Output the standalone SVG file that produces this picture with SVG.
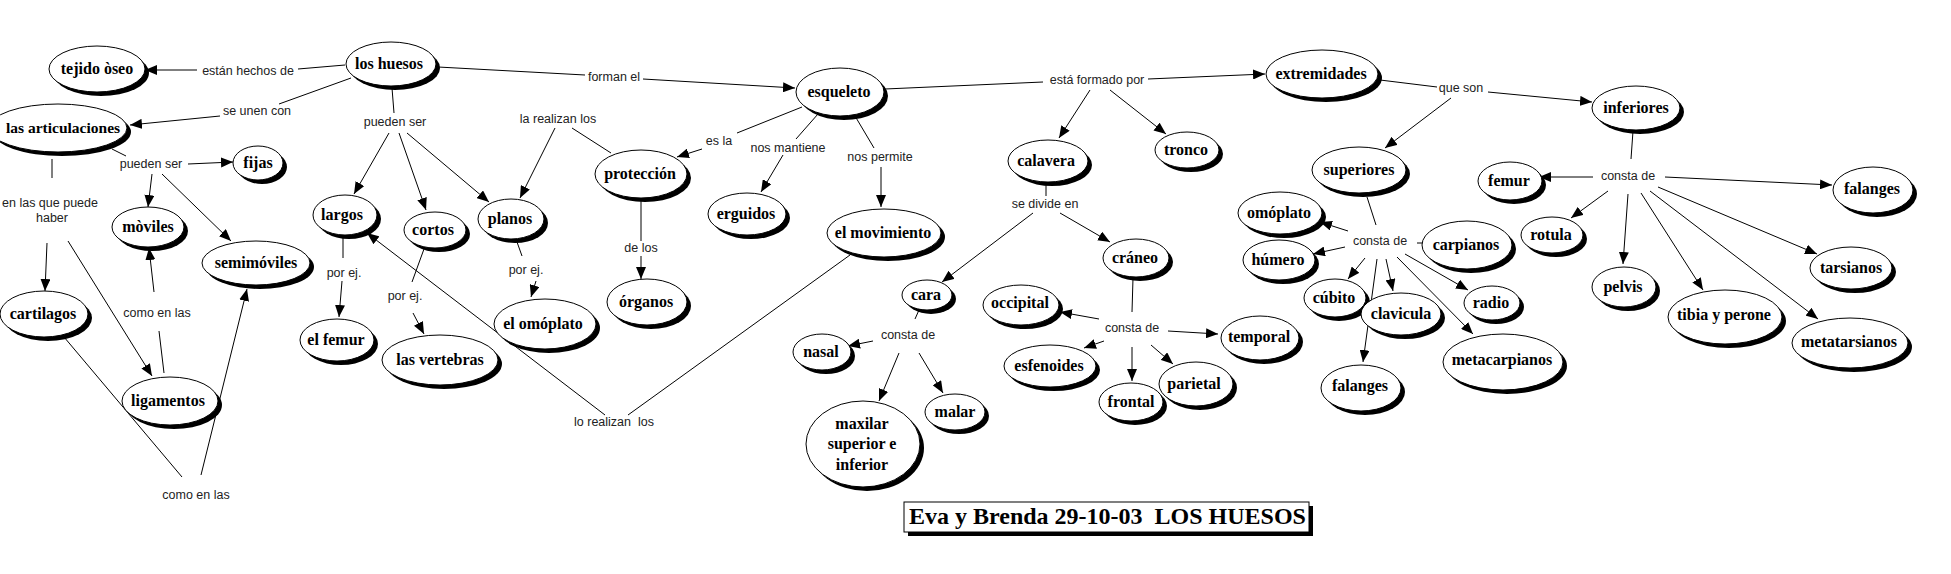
<svg xmlns="http://www.w3.org/2000/svg" width="1951" height="574" viewBox="0 0 1951 574">
<defs>
<marker id="ah" viewBox="0 0 12 10" refX="12" refY="5" markerWidth="12" markerHeight="10" markerUnits="userSpaceOnUse" orient="auto"><path d="M0,0 L12,5 L0,10 z" fill="#000"/></marker>
</defs>
<style>
.sh{fill:#000}
.nd{fill:#fff;stroke:#000;stroke-width:1}
.nt{font-family:"Liberation Serif",serif;font-weight:bold;font-size:16px;text-anchor:middle;fill:#000}
.lb{font-family:"Liberation Sans",Arial,sans-serif;font-size:12.5px;text-anchor:middle;fill:#222}
.c line{stroke:#000;stroke-width:1;fill:none}
.c line.a{marker-end:url(#ah)}
</style>
<rect width="1951" height="574" fill="#fff"/>
<g id="connectors" class="c">
<line x1="345" y1="65" x2="298" y2="69"/>
<line class="a" x1="197" y1="70" x2="145" y2="70"/>
<line x1="351" y1="78" x2="279" y2="104"/>
<line class="a" x1="220" y1="116" x2="130" y2="125"/>
<line x1="112" y1="149" x2="126" y2="156"/>
<line class="a" x1="188" y1="164" x2="233" y2="162"/>
<line class="a" x1="152" y1="174" x2="148" y2="207"/>
<line class="a" x1="162" y1="174" x2="231" y2="241"/>
<line x1="52" y1="159" x2="52" y2="178"/>
<line class="a" x1="47" y1="243" x2="45" y2="291"/>
<line class="a" x1="68" y1="241" x2="152" y2="376"/>
<line x1="164" y1="373" x2="159" y2="331"/>
<line class="a" x1="154" y1="292" x2="149" y2="248"/>
<line x1="64" y1="337" x2="182" y2="477"/>
<line class="a" x1="201" y1="475" x2="247" y2="289"/>
<line x1="392" y1="88" x2="394" y2="113"/>
<line class="a" x1="389" y1="133" x2="354" y2="194"/>
<line class="a" x1="399" y1="133" x2="426" y2="210"/>
<line class="a" x1="407" y1="133" x2="489" y2="202"/>
<line class="a" x1="555" y1="128" x2="520" y2="198"/>
<line x1="611" y1="153" x2="572" y2="128"/>
<line x1="641" y1="200" x2="641" y2="241"/>
<line class="a" x1="641" y1="256" x2="641" y2="279"/>
<line x1="343" y1="237" x2="343" y2="258"/>
<line class="a" x1="342" y1="281" x2="339" y2="317"/>
<line x1="424" y1="249" x2="412" y2="282"/>
<line class="a" x1="413" y1="313" x2="424" y2="334"/>
<line x1="517" y1="242" x2="522" y2="256"/>
<line class="a" x1="536" y1="281" x2="531" y2="297"/>
<line class="a" x1="605" y1="415" x2="367" y2="233"/>
<line x1="628" y1="415" x2="850" y2="255"/>
<line x1="438" y1="67" x2="585" y2="75"/>
<line class="a" x1="643" y1="79" x2="795" y2="88"/>
<line x1="802" y1="107" x2="737" y2="133"/>
<line class="a" x1="702" y1="149" x2="677" y2="157"/>
<line x1="818" y1="114" x2="796" y2="139"/>
<line class="a" x1="783" y1="155" x2="761" y2="192"/>
<line x1="855" y1="116" x2="874" y2="148"/>
<line class="a" x1="881" y1="167" x2="881" y2="207"/>
<line x1="885" y1="89" x2="1043" y2="82"/>
<line class="a" x1="1148" y1="79" x2="1265" y2="74"/>
<line class="a" x1="1090" y1="90" x2="1059" y2="138"/>
<line class="a" x1="1110" y1="90" x2="1166" y2="134"/>
<line x1="1046" y1="183" x2="1046" y2="196"/>
<line class="a" x1="1033" y1="213" x2="942" y2="282"/>
<line class="a" x1="1060" y1="213" x2="1110" y2="242"/>
<line x1="919" y1="310" x2="915" y2="319"/>
<line class="a" x1="873" y1="341" x2="848" y2="346"/>
<line class="a" x1="899" y1="353" x2="879" y2="401"/>
<line class="a" x1="919" y1="353" x2="943" y2="393"/>
<line x1="1133" y1="278" x2="1132" y2="312"/>
<line class="a" x1="1099" y1="319" x2="1060" y2="312"/>
<line class="a" x1="1104" y1="341" x2="1084" y2="348"/>
<line class="a" x1="1132" y1="347" x2="1132" y2="381"/>
<line class="a" x1="1151" y1="345" x2="1173" y2="364"/>
<line class="a" x1="1168" y1="331" x2="1218" y2="334"/>
<line x1="1380" y1="80" x2="1437" y2="87"/>
<line class="a" x1="1488" y1="92" x2="1592" y2="102"/>
<line class="a" x1="1451" y1="98" x2="1385" y2="148"/>
<line x1="1367" y1="197" x2="1376" y2="225"/>
<line class="a" x1="1348" y1="231" x2="1320" y2="222"/>
<line class="a" x1="1345" y1="247" x2="1313" y2="254"/>
<line x1="1417" y1="243" x2="1423" y2="243"/>
<line class="a" x1="1365" y1="258" x2="1348" y2="279"/>
<line class="a" x1="1377" y1="259" x2="1363" y2="362"/>
<line class="a" x1="1386" y1="259" x2="1393" y2="291"/>
<line class="a" x1="1397" y1="257" x2="1473" y2="334"/>
<line class="a" x1="1405" y1="254" x2="1468" y2="290"/>
<line x1="1633" y1="131" x2="1631" y2="159"/>
<line class="a" x1="1593" y1="177" x2="1539" y2="177"/>
<line class="a" x1="1608" y1="191" x2="1571" y2="218"/>
<line class="a" x1="1628" y1="194" x2="1623" y2="264"/>
<line class="a" x1="1641" y1="193" x2="1703" y2="290"/>
<line class="a" x1="1650" y1="191" x2="1818" y2="319"/>
<line class="a" x1="1658" y1="187" x2="1817" y2="254"/>
<line class="a" x1="1665" y1="177" x2="1832" y2="185"/>
</g>
<g id="labels">
<text class="lb" x="248" y="75">están hechos de</text>
<text class="lb" x="257" y="115">se unen con</text>
<text class="lb" x="151" y="168">pueden ser</text>
<text class="lb" x="50" y="207">en las que puede</text>
<text class="lb" x="52" y="222">haber</text>
<text class="lb" x="157" y="317">como en las</text>
<text class="lb" x="196" y="499">como en las</text>
<text class="lb" x="395" y="126">pueden ser</text>
<text class="lb" x="614" y="81">forman el</text>
<text class="lb" x="558" y="123">la realizan los</text>
<text class="lb" x="344" y="277">por ej.</text>
<text class="lb" x="405" y="300">por ej.</text>
<text class="lb" x="526" y="274">por ej.</text>
<text class="lb" x="641" y="252">de los</text>
<text class="lb" x="614" y="426" xml:space="preserve">lo realizan  los</text>
<text class="lb" x="719" y="145">es la</text>
<text class="lb" x="788" y="152">nos mantiene</text>
<text class="lb" x="880" y="161">nos permite</text>
<text class="lb" x="1097" y="84">está formado por</text>
<text class="lb" x="1045" y="208">se divide en</text>
<text class="lb" x="908" y="339">consta de</text>
<text class="lb" x="1132" y="332">consta de</text>
<text class="lb" x="1461" y="92">que son</text>
<text class="lb" x="1380" y="245">consta de</text>
<text class="lb" x="1628" y="180">consta de</text>
</g>
<g id="n-tejido"><ellipse class="sh" cx="101" cy="73" rx="48" ry="23"/><ellipse class="nd" cx="97" cy="69" rx="48" ry="23"/><text class="nt" x="97" y="74">tejido òseo</text></g>
<g id="n-articulaciones"><ellipse class="sh" cx="62" cy="132" rx="69" ry="24"/><ellipse class="nd" cx="58" cy="128" rx="69" ry="24"/><text class="nt" x="63" y="133" style="font-size:15.5px">las articulaciones</text></g>
<g id="n-fijas"><ellipse class="sh" cx="262" cy="167" rx="25" ry="17"/><ellipse class="nd" cx="258" cy="163" rx="25" ry="17"/><text class="nt" x="258" y="168">fijas</text></g>
<g id="n-moviles"><ellipse class="sh" cx="152" cy="231" rx="36" ry="20"/><ellipse class="nd" cx="148" cy="227" rx="36" ry="20"/><text class="nt" x="148" y="232">mòviles</text></g>
<g id="n-semimoviles"><ellipse class="sh" cx="260" cy="267" rx="54" ry="22"/><ellipse class="nd" cx="256" cy="263" rx="54" ry="22"/><text class="nt" x="256" y="268">semimóviles</text></g>
<g id="n-cartilagos"><ellipse class="sh" cx="48" cy="318" rx="44" ry="23"/><ellipse class="nd" cx="44" cy="314" rx="44" ry="23"/><text class="nt" x="43" y="319">cartilagos</text></g>
<g id="n-ligamentos"><ellipse class="sh" cx="174" cy="405" rx="48" ry="24"/><ellipse class="nd" cx="170" cy="401" rx="48" ry="24"/><text class="nt" x="168" y="406">ligamentos</text></g>
<g id="n-huesos"><ellipse class="sh" cx="395" cy="68" rx="45" ry="22"/><ellipse class="nd" cx="391" cy="64" rx="45" ry="22"/><text class="nt" x="389" y="69">los huesos</text></g>
<g id="n-largos"><ellipse class="sh" cx="349" cy="219" rx="32" ry="20"/><ellipse class="nd" cx="345" cy="215" rx="32" ry="20"/><text class="nt" x="342" y="220">largos</text></g>
<g id="n-cortos"><ellipse class="sh" cx="439" cy="234" rx="31" ry="18"/><ellipse class="nd" cx="435" cy="230" rx="31" ry="18"/><text class="nt" x="433" y="235">cortos</text></g>
<g id="n-planos"><ellipse class="sh" cx="515" cy="223" rx="33" ry="20"/><ellipse class="nd" cx="511" cy="219" rx="33" ry="20"/><text class="nt" x="510" y="224">planos</text></g>
<g id="n-proteccion"><ellipse class="sh" cx="645" cy="178" rx="46" ry="24"/><ellipse class="nd" cx="641" cy="174" rx="46" ry="24"/><text class="nt" x="640" y="179">protección</text></g>
<g id="n-organos"><ellipse class="sh" cx="651" cy="306" rx="40" ry="23"/><ellipse class="nd" cx="647" cy="302" rx="40" ry="23"/><text class="nt" x="646" y="307">órganos</text></g>
<g id="n-elfemur"><ellipse class="sh" cx="341" cy="344" rx="37" ry="21"/><ellipse class="nd" cx="337" cy="340" rx="37" ry="21"/><text class="nt" x="336" y="345">el femur</text></g>
<g id="n-vertebras"><ellipse class="sh" cx="444" cy="364" rx="58" ry="25"/><ellipse class="nd" cx="440" cy="360" rx="58" ry="25"/><text class="nt" x="440" y="365">las vertebras</text></g>
<g id="n-elomoplato"><ellipse class="sh" cx="549" cy="328" rx="51" ry="25"/><ellipse class="nd" cx="545" cy="324" rx="51" ry="25"/><text class="nt" x="543" y="329">el omóplato</text></g>
<g id="n-esqueleto"><ellipse class="sh" cx="844" cy="96" rx="44" ry="24"/><ellipse class="nd" cx="840" cy="92" rx="44" ry="24"/><text class="nt" x="839" y="97">esqueleto</text></g>
<g id="n-erguidos"><ellipse class="sh" cx="751" cy="218" rx="39" ry="21"/><ellipse class="nd" cx="747" cy="214" rx="39" ry="21"/><text class="nt" x="746" y="219">erguidos</text></g>
<g id="n-movimiento"><ellipse class="sh" cx="888" cy="237" rx="57" ry="24"/><ellipse class="nd" cx="884" cy="233" rx="57" ry="24"/><text class="nt" x="883" y="238">el movimiento</text></g>
<g id="n-calavera"><ellipse class="sh" cx="1052" cy="165" rx="40" ry="21"/><ellipse class="nd" cx="1048" cy="161" rx="40" ry="21"/><text class="nt" x="1046" y="166">calavera</text></g>
<g id="n-tronco"><ellipse class="sh" cx="1191" cy="154" rx="32" ry="18"/><ellipse class="nd" cx="1187" cy="150" rx="32" ry="18"/><text class="nt" x="1186" y="155">tronco</text></g>
<g id="n-cara"><ellipse class="sh" cx="931" cy="299" rx="25" ry="15"/><ellipse class="nd" cx="927" cy="295" rx="25" ry="15"/><text class="nt" x="926" y="300">cara</text></g>
<g id="n-nasal"><ellipse class="sh" cx="826" cy="356" rx="29" ry="18"/><ellipse class="nd" cx="822" cy="352" rx="29" ry="18"/><text class="nt" x="821" y="357">nasal</text></g>
<g id="n-maxilar"><ellipse class="sh" cx="867" cy="448" rx="57" ry="43"/><ellipse class="nd" cx="863" cy="444" rx="57" ry="43"/><text class="nt" x="862" y="429">maxilar</text><text class="nt" x="862" y="449">superior e</text><text class="nt" x="862" y="470">inferior</text></g>
<g id="n-malar"><ellipse class="sh" cx="959" cy="416" rx="30" ry="18"/><ellipse class="nd" cx="955" cy="412" rx="30" ry="18"/><text class="nt" x="955" y="417">malar</text></g>
<g id="n-craneo"><ellipse class="sh" cx="1140" cy="262" rx="33" ry="19"/><ellipse class="nd" cx="1136" cy="258" rx="33" ry="19"/><text class="nt" x="1135" y="263">cráneo</text></g>
<g id="n-occipital"><ellipse class="sh" cx="1025" cy="309" rx="38" ry="20"/><ellipse class="nd" cx="1021" cy="305" rx="38" ry="20"/><text class="nt" x="1020" y="308">occipital</text></g>
<g id="n-esfenoides"><ellipse class="sh" cx="1054" cy="370" rx="46" ry="21"/><ellipse class="nd" cx="1050" cy="366" rx="46" ry="21"/><text class="nt" x="1049" y="371">esfenoides</text></g>
<g id="n-frontal"><ellipse class="sh" cx="1135" cy="406" rx="32" ry="19"/><ellipse class="nd" cx="1131" cy="402" rx="32" ry="19"/><text class="nt" x="1131" y="407">frontal</text></g>
<g id="n-parietal"><ellipse class="sh" cx="1200" cy="388" rx="37" ry="22"/><ellipse class="nd" cx="1196" cy="384" rx="37" ry="22"/><text class="nt" x="1194" y="389">parietal</text></g>
<g id="n-temporal"><ellipse class="sh" cx="1264" cy="342" rx="39" ry="22"/><ellipse class="nd" cx="1260" cy="338" rx="39" ry="22"/><text class="nt" x="1259" y="342">temporal</text></g>
<g id="n-extremidades"><ellipse class="sh" cx="1326" cy="78" rx="56" ry="24"/><ellipse class="nd" cx="1322" cy="74" rx="56" ry="24"/><text class="nt" x="1321" y="79">extremidades</text></g>
<g id="n-superiores"><ellipse class="sh" cx="1363" cy="174" rx="47" ry="23"/><ellipse class="nd" cx="1359" cy="170" rx="47" ry="23"/><text class="nt" x="1359" y="175">superiores</text></g>
<g id="n-inferiores"><ellipse class="sh" cx="1640" cy="112" rx="44" ry="22"/><ellipse class="nd" cx="1636" cy="108" rx="44" ry="22"/><text class="nt" x="1636" y="113">inferiores</text></g>
<g id="n-omoplato"><ellipse class="sh" cx="1284" cy="217" rx="42" ry="21"/><ellipse class="nd" cx="1280" cy="213" rx="42" ry="21"/><text class="nt" x="1279" y="218">omóplato</text></g>
<g id="n-humero"><ellipse class="sh" cx="1283" cy="264" rx="36" ry="20"/><ellipse class="nd" cx="1279" cy="260" rx="36" ry="20"/><text class="nt" x="1278" y="265">húmero</text></g>
<g id="n-carpianos"><ellipse class="sh" cx="1471" cy="249" rx="45" ry="24"/><ellipse class="nd" cx="1467" cy="245" rx="45" ry="24"/><text class="nt" x="1466" y="250">carpianos</text></g>
<g id="n-cubito"><ellipse class="sh" cx="1339" cy="302" rx="31" ry="19"/><ellipse class="nd" cx="1335" cy="298" rx="31" ry="19"/><text class="nt" x="1334" y="303">cúbito</text></g>
<g id="n-clavicula"><ellipse class="sh" cx="1405" cy="318" rx="40" ry="21"/><ellipse class="nd" cx="1401" cy="314" rx="40" ry="21"/><text class="nt" x="1401" y="319">clavicula</text></g>
<g id="n-radio"><ellipse class="sh" cx="1496" cy="307" rx="28" ry="17"/><ellipse class="nd" cx="1492" cy="303" rx="28" ry="17"/><text class="nt" x="1491" y="308">radio</text></g>
<g id="n-metacarpianos"><ellipse class="sh" cx="1507" cy="366" rx="60" ry="28"/><ellipse class="nd" cx="1503" cy="362" rx="60" ry="28"/><text class="nt" x="1502" y="365">metacarpianos</text></g>
<g id="n-falanges-sup"><ellipse class="sh" cx="1365" cy="392" rx="40" ry="23"/><ellipse class="nd" cx="1361" cy="388" rx="40" ry="23"/><text class="nt" x="1360" y="391">falanges</text></g>
<g id="n-femur"><ellipse class="sh" cx="1514" cy="185" rx="32" ry="19"/><ellipse class="nd" cx="1510" cy="181" rx="32" ry="19"/><text class="nt" x="1509" y="186">femur</text></g>
<g id="n-rotula"><ellipse class="sh" cx="1556" cy="239" rx="31" ry="18"/><ellipse class="nd" cx="1552" cy="235" rx="31" ry="18"/><text class="nt" x="1551" y="240">rotula</text></g>
<g id="n-pelvis"><ellipse class="sh" cx="1628" cy="291" rx="32" ry="20"/><ellipse class="nd" cx="1624" cy="287" rx="32" ry="20"/><text class="nt" x="1623" y="292">pelvis</text></g>
<g id="n-tibia"><ellipse class="sh" cx="1729" cy="321" rx="57" ry="27"/><ellipse class="nd" cx="1725" cy="317" rx="57" ry="27"/><text class="nt" x="1724" y="320">tibia y perone</text></g>
<g id="n-metatarsianos"><ellipse class="sh" cx="1854" cy="347" rx="58" ry="25"/><ellipse class="nd" cx="1850" cy="343" rx="58" ry="25"/><text class="nt" x="1849" y="347">metatarsianos</text></g>
<g id="n-tarsianos"><ellipse class="sh" cx="1855" cy="272" rx="41" ry="21"/><ellipse class="nd" cx="1851" cy="268" rx="41" ry="21"/><text class="nt" x="1851" y="273">tarsianos</text></g>
<g id="n-falanges-inf"><ellipse class="sh" cx="1877" cy="194" rx="40" ry="23"/><ellipse class="nd" cx="1873" cy="190" rx="40" ry="23"/><text class="nt" x="1872" y="194">falanges</text></g>
<g id="title"><rect x="908" y="506" width="405" height="30" fill="#000"/><rect x="904" y="502" width="405" height="30" fill="#fff" stroke="#000" stroke-width="1"/><text x="909" y="524" font-family="Liberation Serif, serif" font-weight="bold" font-size="24" fill="#000" xml:space="preserve">Eva y Brenda 29-10-03  LOS HUESOS</text></g>
</svg>
